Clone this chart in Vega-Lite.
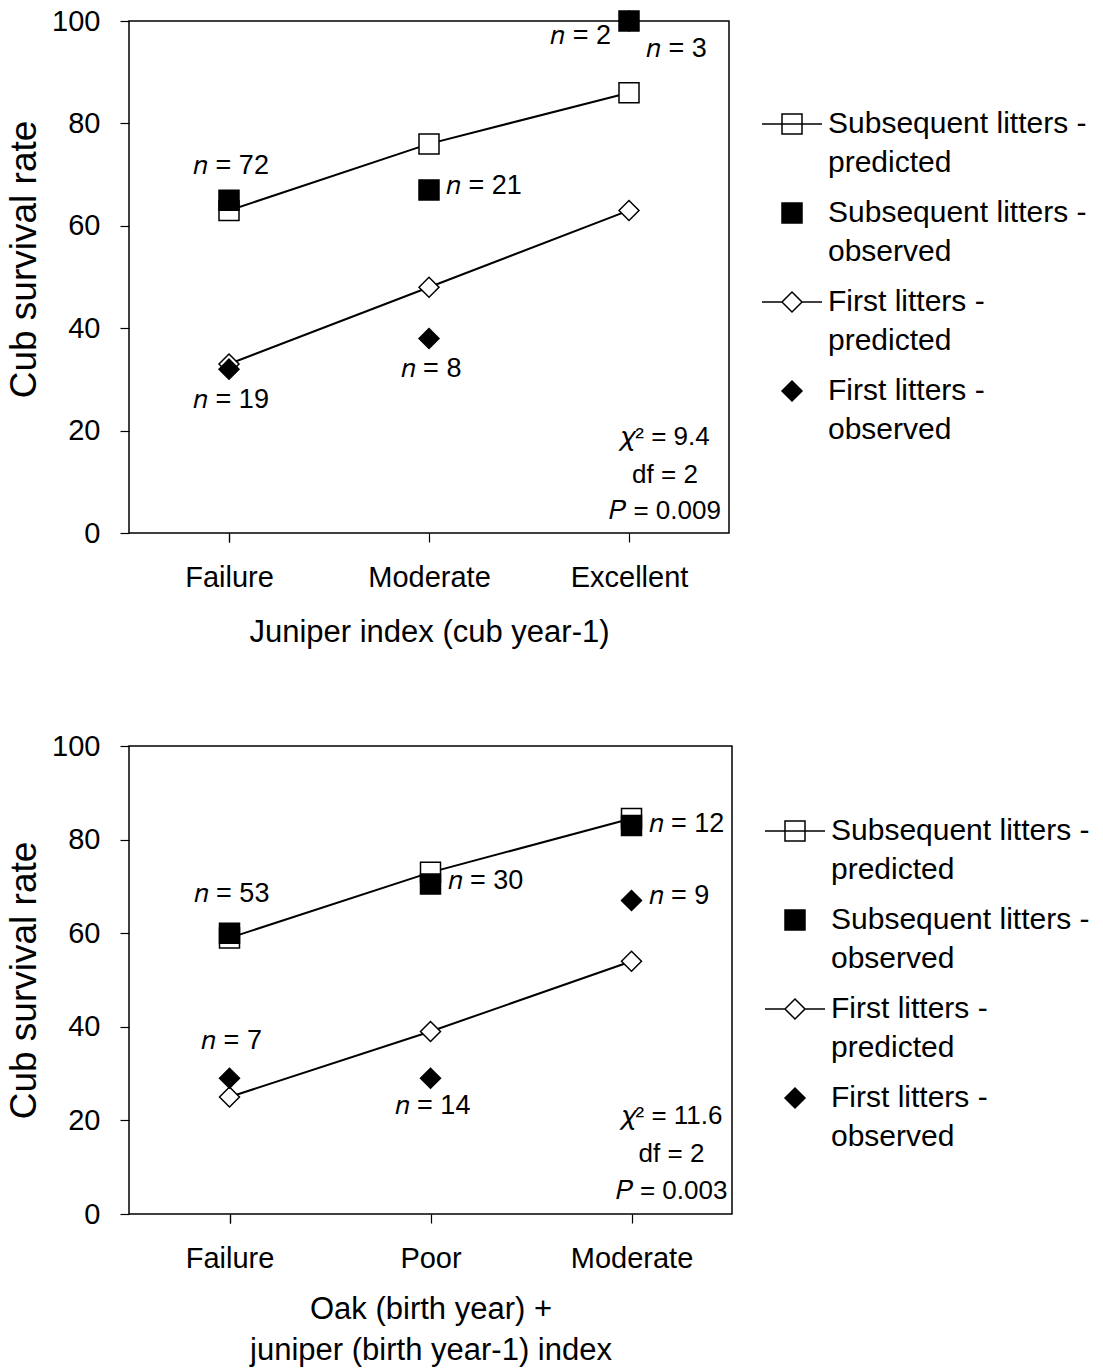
{
  "$schema": "https://vega.github.io/schema/vega-lite/v6.json",
  "background": "white",
  "padding": {"left": 4, "top": 6, "right": 5, "bottom": 2},
  "config": {
    "font": "Liberation Sans",
    "view": {"stroke": "black", "strokeWidth": 1.5},
    "axis": {
      "labelFont": "Liberation Sans", "labelFontSize": 29, "labelColor": "black",
      "titleFont": "Liberation Sans", "titleFontSize": 31, "titleFontWeight": "normal", "titleColor": "black",
      "tickColor": "black", "tickSize": 9, "tickWidth": 1.2, "domain": false, "grid": false
    },
    "axisX": {"labelAngle": 0, "tickBand": "extent", "labelPadding": 21, "titlePadding": 25, "titleLineHeight": 41},
    "axisY": {"labelPadding": 20, "titlePadding": 8, "titleFontSize": 37},
    "legend": {
      "orient": "none", "title": null, "padding": 0, "labelFont": "Liberation Sans", "labelFontSize": 30,
      "labelColor": "black", "labelLimit": 500, "symbolStrokeWidth": 1.5,
      "symbolSize": 400, "rowPadding": 20, "labelOffset": 21
    }
  },
  "datasets": {
    "top_pts": [
      {"cat": "Failure", "series": "Subsequent litters - predicted", "rate": 63},
      {"cat": "Moderate", "series": "Subsequent litters - predicted", "rate": 76},
      {"cat": "Excellent", "series": "Subsequent litters - predicted", "rate": 86},
      {"cat": "Failure", "series": "First litters - predicted", "rate": 33},
      {"cat": "Moderate", "series": "First litters - predicted", "rate": 48},
      {"cat": "Excellent", "series": "First litters - predicted", "rate": 63},
      {"cat": "Failure", "series": "First litters - observed", "rate": 32},
      {"cat": "Moderate", "series": "First litters - observed", "rate": 38},
      {"cat": "Excellent", "series": "First litters - observed", "rate": 100},
      {"cat": "Failure", "series": "Subsequent litters - observed", "rate": 65},
      {"cat": "Moderate", "series": "Subsequent litters - observed", "rate": 67},
      {"cat": "Excellent", "series": "Subsequent litters - observed", "rate": 100}
    ],
    "bot_pts": [
      {"cat": "Failure", "series": "Subsequent litters - predicted", "rate": 59},
      {"cat": "Poor", "series": "Subsequent litters - predicted", "rate": 73},
      {"cat": "Moderate", "series": "Subsequent litters - predicted", "rate": 84.5},
      {"cat": "Failure", "series": "First litters - predicted", "rate": 25},
      {"cat": "Poor", "series": "First litters - predicted", "rate": 39},
      {"cat": "Moderate", "series": "First litters - predicted", "rate": 54},
      {"cat": "Failure", "series": "First litters - observed", "rate": 29},
      {"cat": "Poor", "series": "First litters - observed", "rate": 29},
      {"cat": "Moderate", "series": "First litters - observed", "rate": 67},
      {"cat": "Failure", "series": "Subsequent litters - observed", "rate": 60},
      {"cat": "Poor", "series": "Subsequent litters - observed", "rate": 70.5},
      {"cat": "Moderate", "series": "Subsequent litters - observed", "rate": 83}
    ],
    "top_c": [
      {"cat": "Failure", "y": 71.7, "label": "𝑛 = 72"},
      {"cat": "Failure", "y": 26, "label": "𝑛 = 19"},
      {"cat": "Moderate", "y": 32, "label": "𝑛 = 8"}
    ],
    "top_r": [
      {"cat": "Moderate", "y": 67.8, "label": "𝑛 = 21"},
      {"cat": "Excellent", "y": 94.5, "label": "𝑛 = 3"}
    ],
    "top_l": [
      {"cat": "Excellent", "y": 97, "label": "𝑛 = 2"}
    ],
    "top_stats": [
      {"cat": "Excellent", "y": 18.75, "label": "𝜒² = 9.4"},
      {"cat": "Excellent", "y": 11.3, "label": "df = 2"},
      {"cat": "Excellent", "y": 4.3, "label": "𝑃 = 0.009"}
    ],
    "bot_c": [
      {"cat": "Failure", "y": 68.4, "label": "𝑛 = 53"},
      {"cat": "Failure", "y": 37, "label": "𝑛 = 7"},
      {"cat": "Poor", "y": 23, "label": "𝑛 = 14"}
    ],
    "bot_r": [
      {"cat": "Poor", "y": 71.2, "label": "𝑛 = 30"},
      {"cat": "Moderate", "y": 83.3, "label": "𝑛 = 12"},
      {"cat": "Moderate", "y": 68, "label": "𝑛 = 9"}
    ],
    "bot_stats": [
      {"cat": "Moderate", "y": 20.9, "label": "𝜒² = 11.6"},
      {"cat": "Moderate", "y": 12.8, "label": "df = 2"},
      {"cat": "Moderate", "y": 4.9, "label": "𝑃 = 0.003"}
    ]
  },
  "spacing": 83,
  "resolve": {"scale": {"x": "independent", "shape": "independent", "fill": "independent"}, "legend": {"shape": "independent", "fill": "independent"}},
  "vconcat": [
    {
      "width": 600,
      "height": 512,
      "encoding": {
        "x": {"field": "cat", "type": "nominal", "title": "Juniper index (cub year-1)",
              "scale": {"domain": ["Failure", "Moderate", "Excellent"], "paddingInner": 0, "paddingOuter": 0}}
      },
      "layer": [
        {
          "data": {"name": "top_pts"},
          "transform": [{"filter": "indexof(datum.series, 'predicted') >= 0"}],
          "mark": {"type": "line", "color": "black", "strokeWidth": 2},
          "encoding": {
            "y": {"field": "rate", "type": "quantitative", "title": "Cub survival rate",
                  "scale": {"domain": [0, 100], "nice": false}, "axis": {"values": [0, 20, 40, 60, 80, 100], "titleY": 238}},
            "detail": {"field": "series"}
          }
        },
        {
          "data": {"name": "top_pts"},
          "mark": {"type": "point", "filled": true, "stroke": "black", "strokeWidth": 1.5, "size": 400, "opacity": 1},
          "encoding": {
            "y": {"field": "rate", "type": "quantitative", "title": "Cub survival rate"},
            "shape": {"field": "series", "type": "nominal", "legend": null,
                      "scale": {"domain": ["Subsequent litters - observed", "Subsequent litters - predicted", "First litters - observed", "First litters - predicted"],
                                "range": ["square", "square", "diamond", "diamond"]}},
            "fill": {"field": "series", "type": "nominal", "title": null,
                     "scale": {"domain": ["Subsequent litters - predicted", "Subsequent litters - observed", "First litters - predicted", "First litters - observed"],
                               "range": ["white", "black", "white", "black"]},
                     "legend": {"legendX": 648, "legendY": 88,
                                "labelExpr": "[slice(datum.label, 0, indexof(datum.label, ' - ') + 2), slice(datum.label, indexof(datum.label, ' - ') + 3)]",
                                "encoding": {"symbols": {"stroke": {"value": "black"}, "strokeWidth": {"value": 1.5}, "size": {"value": 400},
                                                       "shape": {"condition": [{"test": "datum.value == 'Subsequent litters - predicted'", "value": "M-3,0H3M-1,-1H1V1H-1Z"}, {"test": "datum.value == 'First litters - predicted'", "value": "M-3,0H-1M1,0H3M0,-1L1,0L0,1L-1,0Z"}, {"test": "datum.value == 'Subsequent litters - observed'", "value": "square"}], "value": "diamond"}},
                                           "labels": {"lineHeight": {"value": 39}}}}}
          }
        },
        {
          "data": {"name": "top_c"},
          "mark": {"type": "text", "fontSize": 27, "align": "center", "baseline": "middle", "dx": 2, "color": "black"},
          "encoding": {"y": {"field": "y", "type": "quantitative", "title": "Cub survival rate"}, "text": {"field": "label"}}
        },
        {
          "data": {"name": "top_r"},
          "mark": {"type": "text", "fontSize": 27, "align": "left", "baseline": "middle", "dx": 17, "color": "black"},
          "encoding": {"y": {"field": "y", "type": "quantitative", "title": "Cub survival rate"}, "text": {"field": "label"}}
        },
        {
          "data": {"name": "top_l"},
          "mark": {"type": "text", "fontSize": 27, "align": "right", "baseline": "middle", "dx": -18, "color": "black"},
          "encoding": {"y": {"field": "y", "type": "quantitative", "title": "Cub survival rate"}, "text": {"field": "label"}}
        },
        {
          "data": {"name": "top_stats"},
          "mark": {"type": "text", "fontSize": 26, "align": "center", "baseline": "middle", "dx": 36, "color": "black"},
          "encoding": {"y": {"field": "y", "type": "quantitative", "title": "Cub survival rate"}, "text": {"field": "label"}}
        }
      ]
    },
    {
      "width": 603,
      "height": 468,
      "encoding": {
        "x": {"field": "cat", "type": "nominal", "title": ["Oak (birth year) +", "juniper (birth year-1) index"],
              "axis": {"titlePadding": 21},
              "scale": {"domain": ["Failure", "Poor", "Moderate"], "paddingInner": 0, "paddingOuter": 0}}
      },
      "layer": [
        {
          "data": {"name": "bot_pts"},
          "transform": [{"filter": "indexof(datum.series, 'predicted') >= 0"}],
          "mark": {"type": "line", "color": "black", "strokeWidth": 2},
          "encoding": {
            "y": {"field": "rate", "type": "quantitative", "title": "Cub survival rate",
                  "scale": {"domain": [0, 100], "nice": false}, "axis": {"values": [0, 20, 40, 60, 80, 100]}},
            "detail": {"field": "series"}
          }
        },
        {
          "data": {"name": "bot_pts"},
          "mark": {"type": "point", "filled": true, "stroke": "black", "strokeWidth": 1.5, "size": 400, "opacity": 1},
          "encoding": {
            "y": {"field": "rate", "type": "quantitative", "title": "Cub survival rate"},
            "shape": {"field": "series", "type": "nominal", "legend": null,
                      "scale": {"domain": ["Subsequent litters - observed", "Subsequent litters - predicted", "First litters - observed", "First litters - predicted"],
                                "range": ["square", "square", "diamond", "diamond"]}},
            "fill": {"field": "series", "type": "nominal", "title": null,
                     "scale": {"domain": ["Subsequent litters - predicted", "Subsequent litters - observed", "First litters - predicted", "First litters - observed"],
                               "range": ["white", "black", "white", "black"]},
                     "legend": {"legendX": 651, "legendY": 70,
                                "labelExpr": "[slice(datum.label, 0, indexof(datum.label, ' - ') + 2), slice(datum.label, indexof(datum.label, ' - ') + 3)]",
                                "encoding": {"symbols": {"stroke": {"value": "black"}, "strokeWidth": {"value": 1.5}, "size": {"value": 400},
                                                       "shape": {"condition": [{"test": "datum.value == 'Subsequent litters - predicted'", "value": "M-3,0H3M-1,-1H1V1H-1Z"}, {"test": "datum.value == 'First litters - predicted'", "value": "M-3,0H-1M1,0H3M0,-1L1,0L0,1L-1,0Z"}, {"test": "datum.value == 'Subsequent litters - observed'", "value": "square"}], "value": "diamond"}},
                                           "labels": {"lineHeight": {"value": 39}}}}}
          }
        },
        {
          "data": {"name": "bot_c"},
          "mark": {"type": "text", "fontSize": 27, "align": "center", "baseline": "middle", "dx": 2, "color": "black"},
          "encoding": {"y": {"field": "y", "type": "quantitative", "title": "Cub survival rate"}, "text": {"field": "label"}}
        },
        {
          "data": {"name": "bot_r"},
          "mark": {"type": "text", "fontSize": 27, "align": "left", "baseline": "middle", "dx": 17, "color": "black"},
          "encoding": {"y": {"field": "y", "type": "quantitative", "title": "Cub survival rate"}, "text": {"field": "label"}}
        },
        {
          "data": {"name": "bot_stats"},
          "mark": {"type": "text", "fontSize": 26, "align": "center", "baseline": "middle", "dx": 40, "color": "black"},
          "encoding": {"y": {"field": "y", "type": "quantitative", "title": "Cub survival rate"}, "text": {"field": "label"}}
        }
      ]
    }
  ]
}
